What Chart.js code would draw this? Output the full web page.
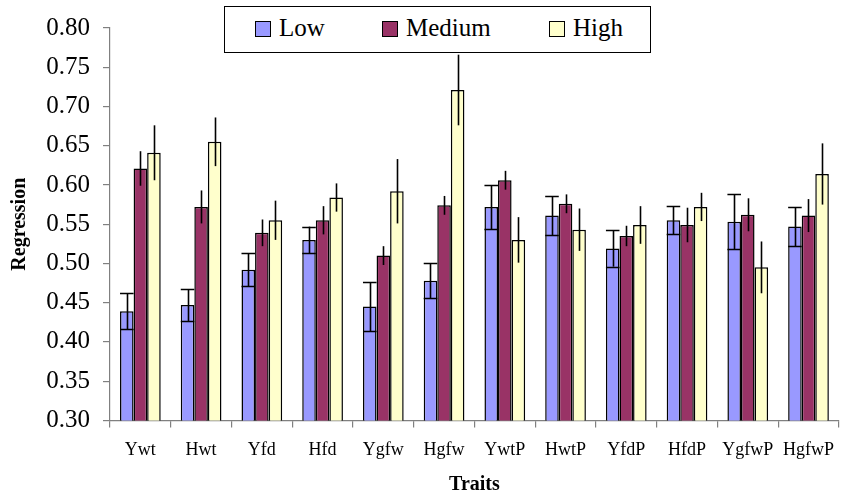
<!DOCTYPE html>
<html>
<head>
  <meta charset="utf-8">
  <title>Regression by trait</title>
  <script src="https://cdn.jsdelivr.net/npm/chart.js"></script>
  <style>
    body {
      margin: 0;
      background: #fff;
      font-family: "Liberation Serif", "Times New Roman", serif;
    }
    .wrap {
      position: relative;
      width: 846px;
      height: 495px;
    }
    .legend {
      position: absolute;
      left: 224px;
      top: 6px;
      width: 425px;
      height: 45px;
      border: 1px solid #000;
      background: #fff;
      font-size: 25px;
      color: #000;
    }
    .legend .item {
      position: absolute;
      top: 5px;
      line-height: 32px;
      white-space: nowrap;
    }
    .legend .sw {
      display: inline-block;
      width: 14px;
      height: 14px;
      border: 1px solid #000;
      margin-right: 8px;
      vertical-align: -1px;
    }
  </style>
</head>
<body>
  <div class="wrap">
    <canvas id="chart"></canvas>
    <div class="legend" id="legend"></div>
  </div>

  <script>
    const categories = ['Ywt', 'Hwt', 'Yfd', 'Hfd', 'Ygfw', 'Hgfw', 'YwtP', 'HwtP', 'YfdP', 'HfdP', 'YgfwP', 'HgfwP'];
    const seriesNames = ['Low', 'Medium', 'High'];

    const low = [0.439, 0.447, 0.492, 0.530, 0.445, 0.478, 0.572, 0.561, 0.519, 0.555, 0.553, 0.547];
    const medium = [0.621, 0.572, 0.539, 0.555, 0.510, 0.574, 0.606, 0.576, 0.535, 0.549, 0.562, 0.561];
    const high = [0.641, 0.655, 0.555, 0.584, 0.592, 0.721, 0.530, 0.543, 0.549, 0.572, 0.495, 0.614];

    // half-length of each error bar
    const lowErr = [0.023, 0.020, 0.021, 0.017, 0.031, 0.022, 0.028, 0.025, 0.023, 0.018, 0.035, 0.025];
    const mediumErr = [0.022, 0.021, 0.017, 0.018, 0.012, 0.012, 0.012, 0.012, 0.013, 0.022, 0.021, 0.021];
    const highErr = [0.035, 0.031, 0.025, 0.018, 0.041, 0.045, 0.029, 0.027, 0.024, 0.018, 0.033, 0.039];

    const colors = ['#9999FF', '#993366', '#FFFFCC'];
    const values = [low, medium, high];
    const errors = [lowErr, mediumErr, highErr];
    // only the Low series has caps on its error bars
    const capped = [true, false, false];

    // legend
    const legendEl = document.getElementById('legend');
    const legendX = [30, 157, 324];
    seriesNames.forEach((name, i) => {
      const item = document.createElement('div');
      item.className = 'item';
      item.style.left = legendX[i] + 'px';
      item.innerHTML = '<span class="sw" style="background:' + colors[i] + '"></span>' + name;
      legendEl.appendChild(item);
    });

    // error bars drawn on top of the bars
    const errorBars = {
      id: 'errorBars',
      afterDatasetsDraw(chart) {
        const ctx = chart.ctx;
        const y = chart.scales.y;
        ctx.save();
        ctx.strokeStyle = '#000';
        ctx.lineWidth = 1.6;
        errors.forEach((errs, di) => {
          const meta = chart.getDatasetMeta(di);
          meta.data.forEach((bar, j) => {
            const v = values[di][j];
            const top = y.getPixelForValue(v + errs[j]);
            const bot = y.getPixelForValue(v - errs[j]);
            const x = Math.round(bar.x) + 0.5;
            ctx.beginPath();
            ctx.moveTo(x, top);
            ctx.lineTo(x, bot);
            if (capped[di]) {
              const hw = bar.width / 2;
              ctx.moveTo(bar.x - hw, Math.round(top) + 0.5);
              ctx.lineTo(bar.x + hw, Math.round(top) + 0.5);
              ctx.moveTo(bar.x - hw, Math.round(bot) + 0.5);
              ctx.lineTo(bar.x + hw, Math.round(bot) + 0.5);
            }
            ctx.stroke();
          });
        });
        ctx.restore();
      }
    };

    const serif = 'Liberation Serif';

    new Chart(document.getElementById('chart'), {
      type: 'bar',
      data: {
        labels: categories,
        datasets: seriesNames.map((name, i) => ({
          label: name,
          data: values[i],
          backgroundColor: colors[i],
          borderColor: '#000',
          borderWidth: 1.5,
          borderSkipped: false,
          categoryPercentage: 0.67,
          barPercentage: 1.0
        }))
      },
      options: {
        responsive: true,
        maintainAspectRatio: false,
        animation: false,
        layout: { padding: { top: 17, right: 0, left: 0, bottom: 0 } },
        plugins: {
          legend: { display: false },
          tooltip: { enabled: false }
        },
        scales: {
          x: {
            grid: {
              offset: true,
              drawOnChartArea: false,
              tickLength: 7,
              color: '#808080',
              lineWidth: 1.2
            },
            border: { color: '#808080', width: 1.2 },
            ticks: {
              color: '#000',
              font: { family: serif, size: 18 },
              padding: 12,
              maxRotation: 0,
              autoSkip: false
            },
            title: {
              display: true,
              text: 'Traits',
              color: '#000',
              font: { family: serif, size: 20, weight: 'bold', lineHeight: 1.0 },
              padding: { top: 2, bottom: 0 }
            }
          },
          y: {
            min: 0.30,
            max: 0.80,
            grid: {
              drawOnChartArea: false,
              tickLength: 7,
              color: '#808080',
              lineWidth: 1.2
            },
            border: { color: '#808080', width: 1.2 },
            ticks: {
              stepSize: 0.05,
              color: '#000',
              font: { family: serif, size: 25 },
              padding: 13,
              callback: v => v.toFixed(2)
            },
            title: {
              display: true,
              text: 'Regression',
              color: '#000',
              font: { family: serif, size: 20, weight: 'bold' },
              padding: { top: 8, bottom: 6 }
            },
            afterFit(scale) {
              scale.width = 110;
            }
          }
        }
      },
      plugins: [errorBars]
    });
  </script>
</body>
</html>
